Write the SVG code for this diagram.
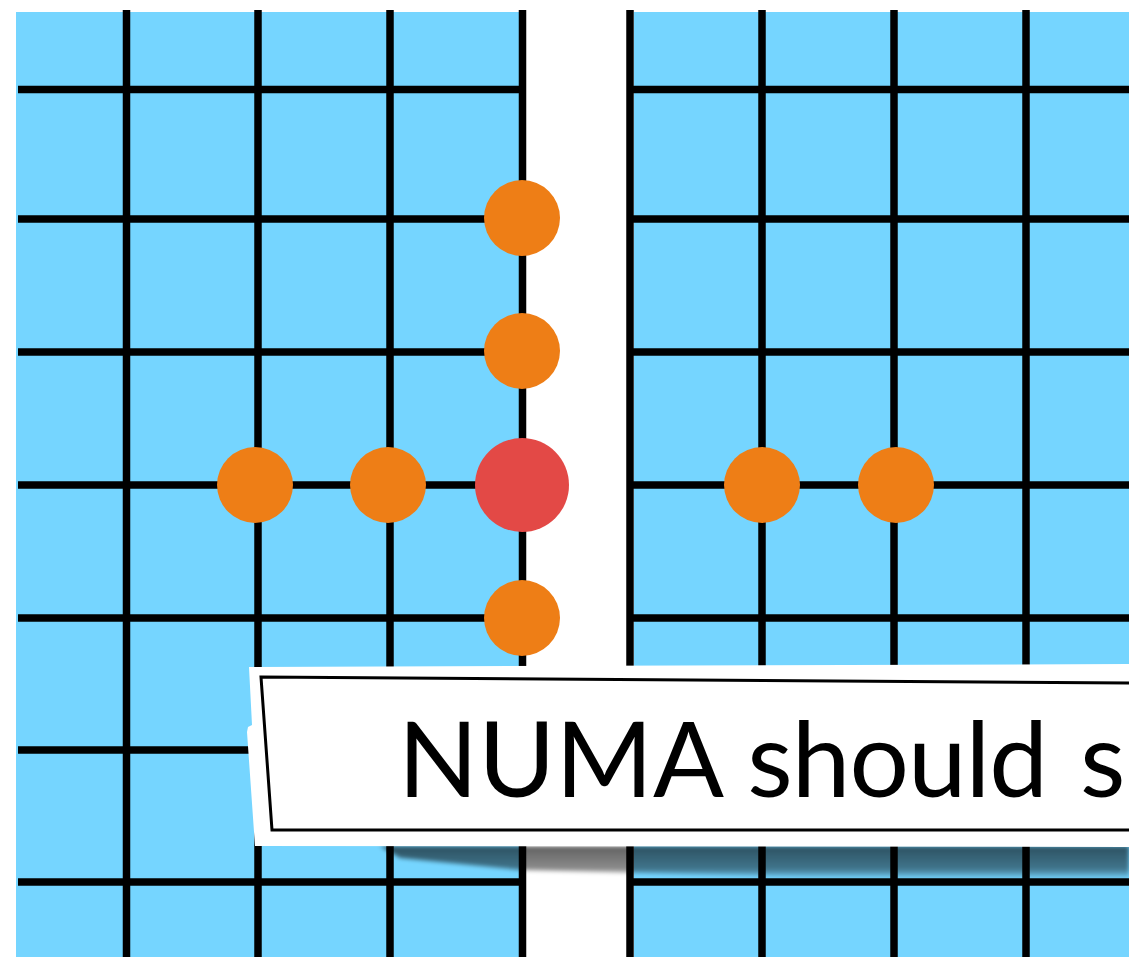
<svg xmlns="http://www.w3.org/2000/svg" width="1129" height="957" viewBox="0 0 1129 957">
  <style>
    .cell { fill: #75D5FF; }
    .grid line { stroke: #000; stroke-width: 7.5; }
    .orange { fill: #EE7E16; }
    .red { fill: #E34946; }
    .label { font-family: Lato, "Liberation Sans", sans-serif; font-size: 105px; fill: #000; }
  </style>
  <defs>
    <linearGradient id="shadowGrad" x1="0" y1="0" x2="0" y2="1">
      <stop offset="0" stop-color="#000" stop-opacity="0.62"/>
      <stop offset="0.7" stop-color="#000" stop-opacity="0.45"/>
      <stop offset="1" stop-color="#000" stop-opacity="0"/>
    </linearGradient>
    <filter id="blur" x="-10%" y="-50%" width="120%" height="200%">
      <feGaussianBlur stdDeviation="2"/>
    </filter>
  </defs>
  <rect width="1129" height="957" fill="#fff"/>

  <g id="left-grid" class="grid">
    <rect class="cell" x="16" y="12" width="503" height="945"/>
    <line x1="126.5" y1="10" x2="126.5" y2="957"/>
    <line x1="258" y1="10" x2="258" y2="957"/>
    <line x1="390" y1="10" x2="390" y2="957"/>
    <line x1="522.5" y1="10" x2="522.5" y2="957"/>
    <line x1="18" y1="89.5" x2="522" y2="89.5"/>
    <line x1="18" y1="219" x2="522" y2="219"/>
    <line x1="18" y1="352" x2="522" y2="352"/>
    <line x1="18" y1="485" x2="522" y2="485"/>
    <line x1="18" y1="618" x2="522" y2="618"/>
    <line x1="18" y1="750" x2="522" y2="750"/>
    <line x1="18" y1="882" x2="522" y2="882"/>
  </g>

  <g id="right-grid" class="grid">
    <rect class="cell" x="634" y="12" width="495" height="945"/>
    <line x1="630" y1="10" x2="630" y2="957"/>
    <line x1="762" y1="10" x2="762" y2="957"/>
    <line x1="894" y1="10" x2="894" y2="957"/>
    <line x1="1026" y1="10" x2="1026" y2="957"/>
    <line x1="630" y1="89.5" x2="1129" y2="89.5"/>
    <line x1="630" y1="219" x2="1129" y2="219"/>
    <line x1="630" y1="352" x2="1129" y2="352"/>
    <line x1="630" y1="485" x2="1129" y2="485"/>
    <line x1="630" y1="618" x2="1129" y2="618"/>
    <line x1="630" y1="750" x2="1129" y2="750"/>
    <line x1="630" y1="882" x2="1129" y2="882"/>
  </g>

  <g id="nodes">
    <circle id="n-up2" class="orange" cx="522" cy="218" r="38"/>
    <circle id="n-up1" class="orange" cx="522" cy="351" r="38"/>
    <circle id="n-down1" class="orange" cx="522" cy="618" r="38"/>
    <circle id="n-left2" class="orange" cx="255" cy="485" r="38"/>
    <circle id="n-left1" class="orange" cx="388" cy="485" r="38"/>
    <circle id="n-right1" class="orange" cx="762" cy="485" r="38"/>
    <circle id="n-right2" class="orange" cx="896" cy="485" r="38"/>
    <circle id="n-center" class="red" cx="522" cy="485" r="47"/>
  </g>

  <g id="banner">
    <polygon points="380,846 1129,846 1129,879 800,877 520,870 400,858" fill="url(#shadowGrad)" filter="url(#blur)"/>
    <polygon points="249,667 1129,664 1129,847 255,846 247,732 248,727 252,725" fill="#fff"/>
    <polygon points="261,677 1140,683 1140,830 272,830" fill="none" stroke="#000" stroke-width="3"/>
    <text class="label" x="398" y="797">NUMA <tspan letter-spacing="-1">should</tspan> <tspan x="1080">sc</tspan></text>
  </g>
</svg>
